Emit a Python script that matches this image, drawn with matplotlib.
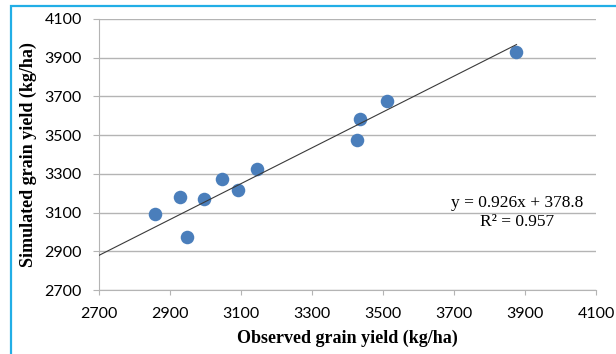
import matplotlib
matplotlib.use("Agg")
import matplotlib.pyplot as plt
from matplotlib.patches import Rectangle

# observed vs simulated grain yield (kg/ha)
observed = [2857, 2928, 2948, 2996, 3046, 3091, 3145, 3428, 3436, 3512, 3876]
simulated = [3093, 3182, 2972, 3170, 3275, 3218, 3327, 3475, 3585, 3676, 3931]

slope = 0.926
intercept = 378.8
r2 = 0.957

ticks = [2700, 2900, 3100, 3300, 3500, 3700, 3900, 4100]

fig = plt.figure(figsize=(6.16, 3.54), dpi=100)
ax = fig.add_axes([99/616, 1 - 290/354, 497/616, 271/354])

grid_col = '#b4b4b4'

ax.scatter(observed, simulated, s=95, color='#4a7ebb', zorder=3, linewidths=0)

# linear trendline (forecast back to the axis)
x0 = 2700
x1 = max(observed)
ax.plot([x0, x1], [slope*x0 + intercept, slope*x1 + intercept],
        color='#3a3a3a', lw=0.8, zorder=4)

ax.text(3879, 3100, "y = 0.926x + 378.8\nR² = {}".format(r2),
        ha='center', va='center', fontsize=12.5, family='Liberation Serif',
        linespacing=1.2, zorder=5)

ax.set_xlim(2700, 4100)
ax.set_ylim(2700, 4100)
ax.set_xticks(ticks)
ax.set_yticks(ticks)

for lab in ax.get_xticklabels() + ax.get_yticklabels():
    lab.set_family('Lato')
    lab.set_fontsize(11.5)

ax.yaxis.grid(True, color=grid_col, lw=1.0)
ax.set_axisbelow(True)
ax.spines['top'].set_visible(False)
ax.spines['right'].set_visible(False)
ax.spines['left'].set_color(grid_col)
ax.spines['bottom'].set_color(grid_col)
ax.tick_params(axis='x', length=3.6, color=grid_col, pad=9)
ax.tick_params(axis='y', length=4.3, color=grid_col, pad=8)

ax.set_xlabel("Observed grain yield (kg/ha)", family='Liberation Serif',
              fontweight='bold', fontsize=13, labelpad=6)
ax.set_ylabel("Simulated grain yield (kg/ha)", family='Liberation Serif',
              fontweight='bold', fontsize=13, labelpad=5)

# blue frame around the chart, cut off at right and bottom
fig.patches.append(Rectangle((11/616, -0.2), 1.0, 1.2 - 6/354,
                             transform=fig.transFigure, fill=False,
                             edgecolor='#22aee6', lw=1.6))

fig.savefig("out.png", dpi=100)
